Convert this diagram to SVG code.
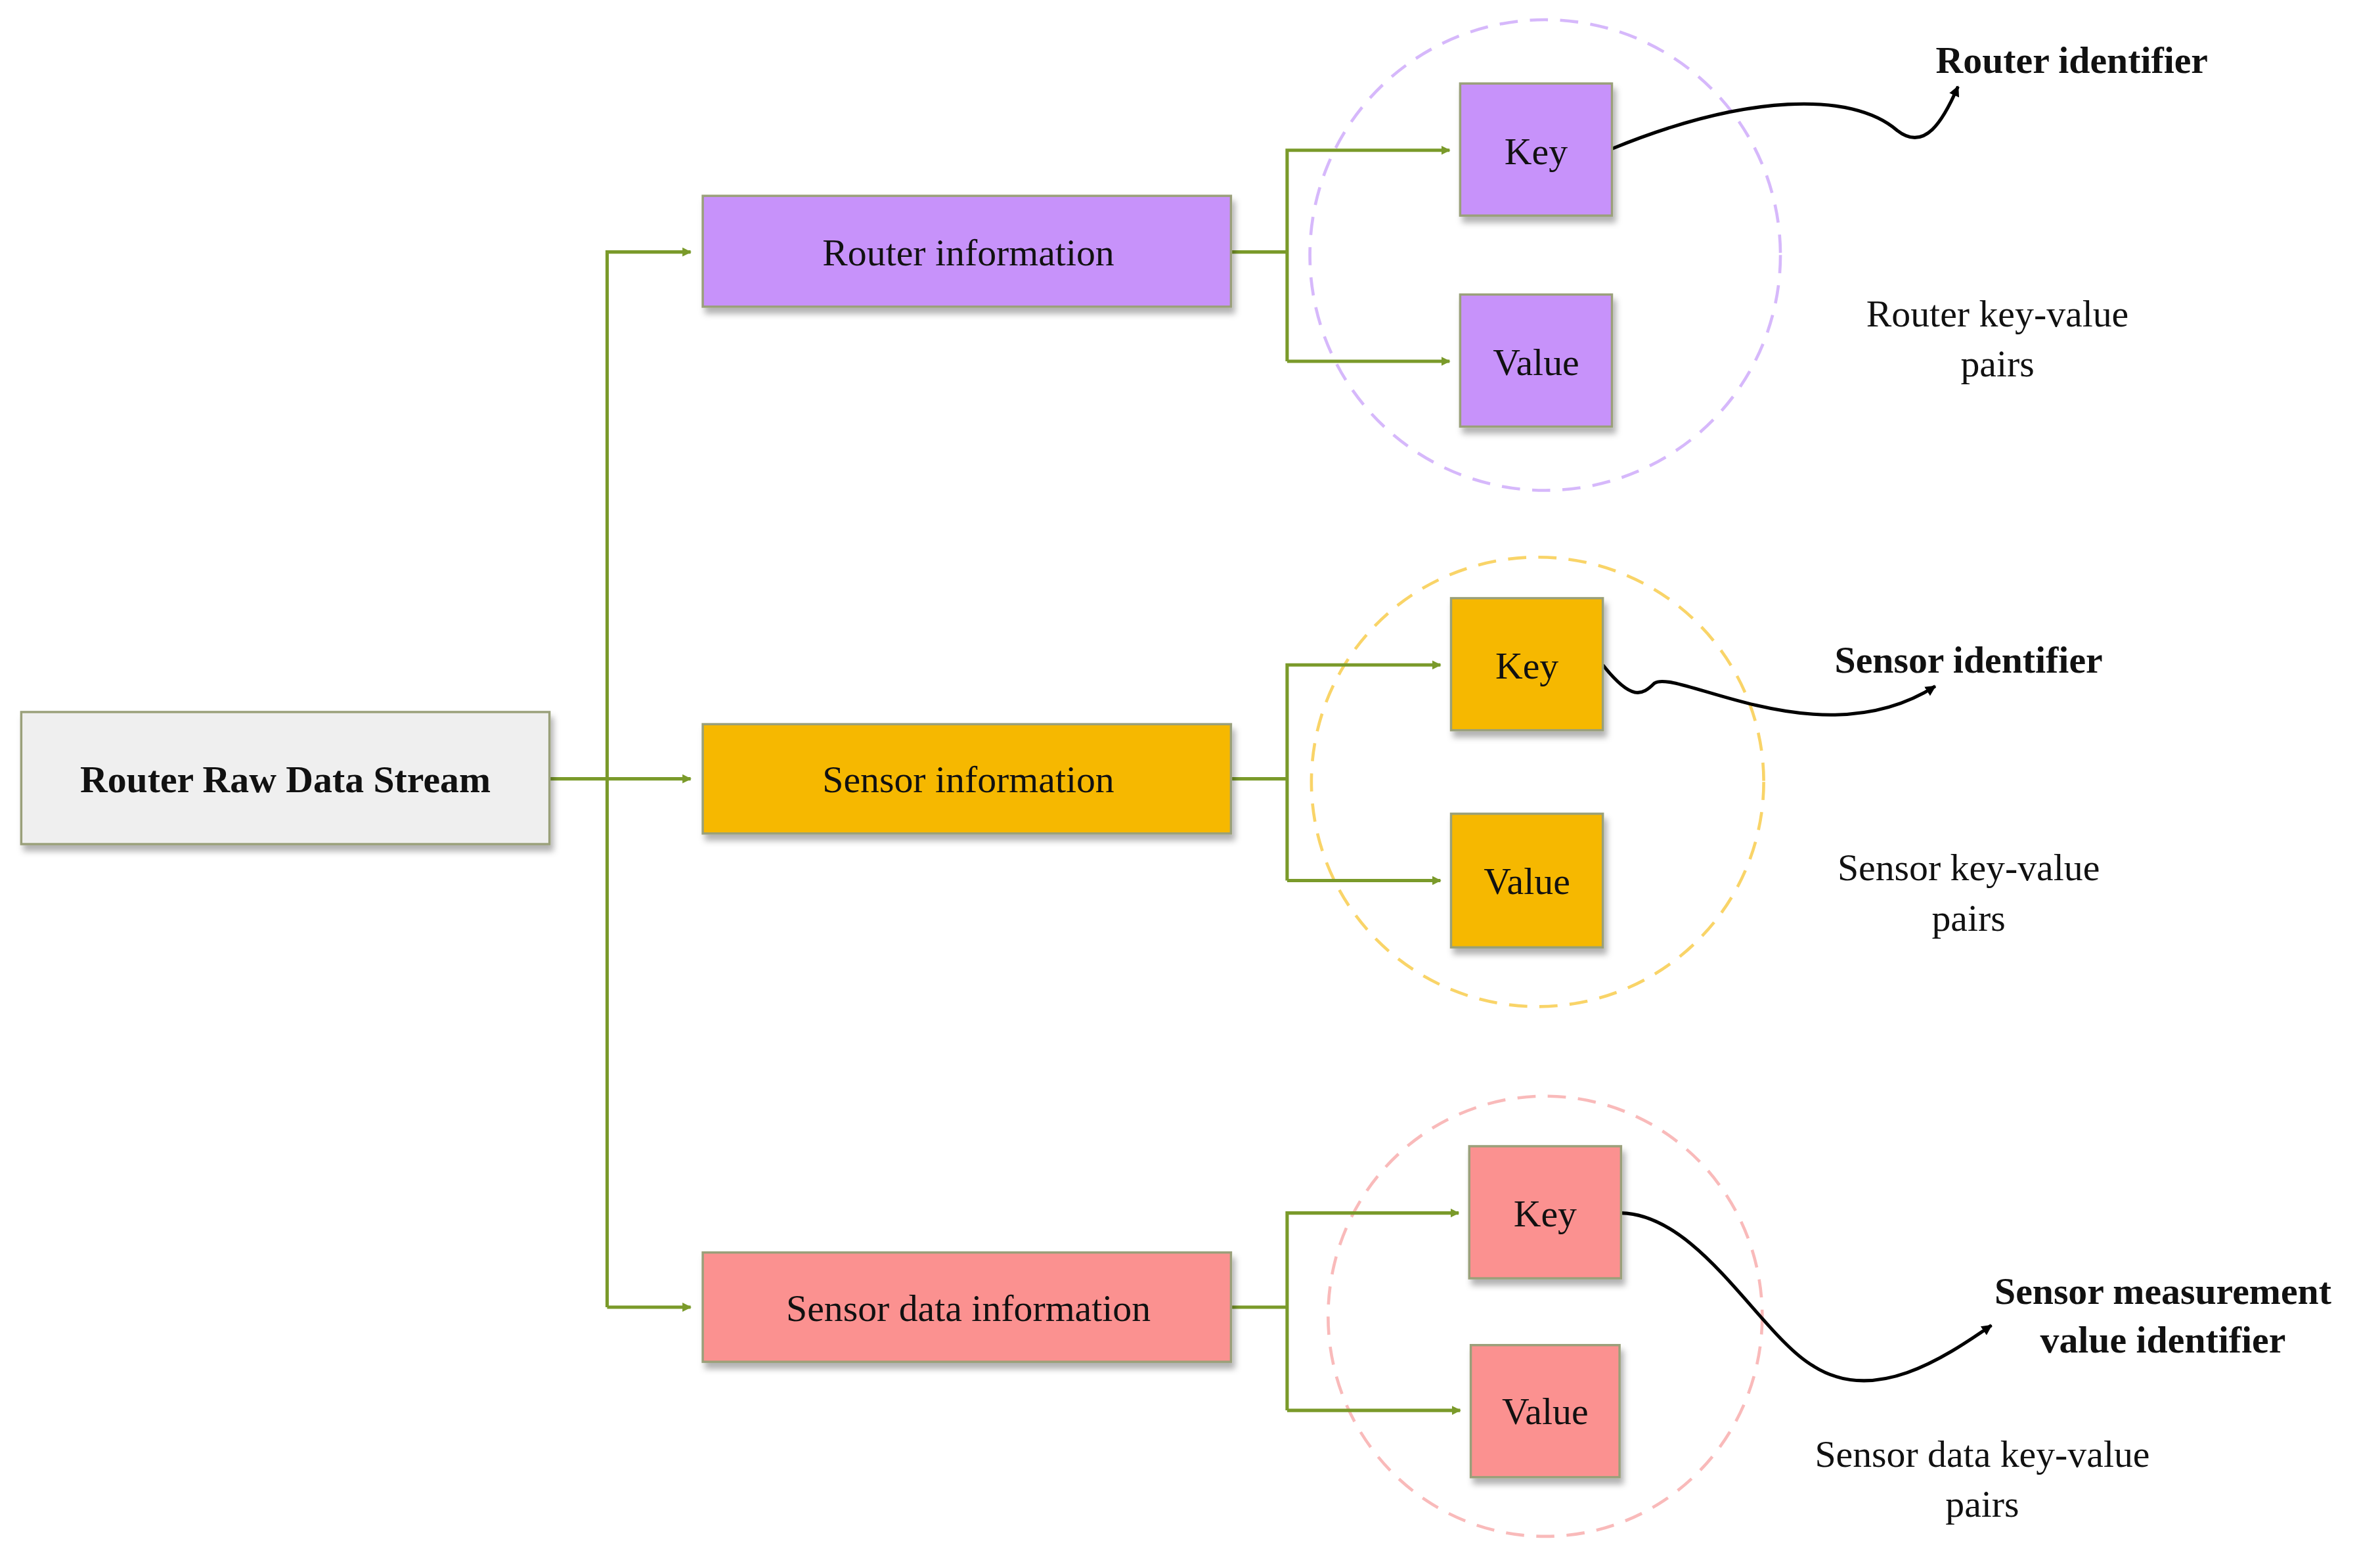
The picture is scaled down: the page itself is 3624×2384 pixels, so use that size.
<svg xmlns="http://www.w3.org/2000/svg" width="3624" height="2384" viewBox="0 0 3624 2384">
<defs>
<filter id="sh" x="-10%" y="-10%" width="130%" height="140%"><feDropShadow dx="2" dy="4" stdDeviation="2" flood-color="#000" flood-opacity="0.3"/></filter>
<marker id="ga" viewBox="0 0 10 10" refX="9" refY="5" markerWidth="6" markerHeight="6" markerUnits="userSpaceOnUse" orient="auto"><path d="M0,0L10,5L0,10z" fill="#7a9a2a"/></marker>
<marker id="ka" viewBox="0 0 10 10" refX="9" refY="5" markerWidth="7" markerHeight="7" markerUnits="userSpaceOnUse" orient="auto"><path d="M0,0L10,5L0,10z" fill="#000"/></marker>
<style>
.t{font-family:"Liberation Serif",serif;font-size:25px;text-anchor:middle;fill:#111}
.b{font-weight:bold}
.box{stroke:#9aa07a;stroke-width:1.5;filter:url(#sh)}
.g{fill:none;stroke:#7a9a2a;stroke-width:2.2}
.k{fill:none;stroke:#000;stroke-width:2.2}
.c{fill:none;stroke-width:2;stroke-dasharray:12 8}
</style>
</defs>
<rect width="3624" height="2384" fill="#fff"/>
<g transform="scale(2.3112)">
<g id="circles">
<ellipse class="c" cx="1018" cy="168" rx="155" ry="155" stroke="#d6b8fb"/>
<ellipse class="c" cx="1013" cy="515" rx="149" ry="148" stroke="#f9d468"/>
<ellipse class="c" cx="1018" cy="867" rx="143" ry="145" stroke="#f9baba"/>
</g>
<g id="connectors">
<path class="g" d="M362,513H455" marker-end="url(#ga)"/>
<path class="g" d="M400,861V166H455" marker-end="url(#ga)"/>
<path class="g" d="M400,861H455" marker-end="url(#ga)"/>
<path class="g" d="M811,166H848"/><path class="g" d="M848,238V99H955" marker-end="url(#ga)"/><path class="g" d="M848,238H955" marker-end="url(#ga)"/>
<path class="g" d="M811,513H848"/><path class="g" d="M848,580V438H949" marker-end="url(#ga)"/><path class="g" d="M848,580H949" marker-end="url(#ga)"/>
<path class="g" d="M811,861H848"/><path class="g" d="M848,929V799H961" marker-end="url(#ga)"/><path class="g" d="M848,929H962" marker-end="url(#ga)"/>
<path class="k" d="M1062,98C1150,62 1220,60 1250,86C1268,100 1280,80 1290,57" marker-end="url(#ka)"/>
<path class="k" d="M1056,438C1075,462 1082,458 1090,450C1105,440 1200,500 1275,452" marker-end="url(#ka)"/>
<path class="k" d="M1068,799C1120,800 1160,880 1195,900C1235,925 1280,895 1312,873" marker-end="url(#ka)"/>
</g>
<g id="root"><rect class="box" x="14" y="469" width="348" height="87" fill="#efefef"/><text class="t b" x="188" y="522">Router Raw Data Stream</text></g>
<g id="router"><rect class="box" x="463" y="129" width="348" height="73" fill="#c792fa"/><text class="t" x="638" y="175">Router information</text></g>
<g id="sensor"><rect class="box" x="463" y="477" width="348" height="72" fill="#f6b800"/><text class="t" x="638" y="522">Sensor information</text></g>
<g id="sdata"><rect class="box" x="463" y="825" width="348" height="72" fill="#fb9190"/><text class="t" x="638" y="870">Sensor data information</text></g>
<g id="rkey"><rect class="box" x="962" y="55" width="100" height="87" fill="#c792fa"/><text class="t" x="1012" y="108">Key</text></g>
<g id="rval"><rect class="box" x="962" y="194" width="100" height="87" fill="#c792fa"/><text class="t" x="1012" y="247">Value</text></g>
<g id="skey"><rect class="box" x="956" y="394" width="100" height="87" fill="#f6b800"/><text class="t" x="1006" y="447">Key</text></g>
<g id="sval"><rect class="box" x="956" y="536" width="100" height="88" fill="#f6b800"/><text class="t" x="1006" y="589">Value</text></g>
<g id="dkey"><rect class="box" x="968" y="755" width="100" height="87" fill="#fb9190"/><text class="t" x="1018" y="808">Key</text></g>
<g id="dval"><rect class="box" x="969" y="886" width="98" height="87" fill="#fb9190"/><text class="t" x="1018" y="938">Value</text></g>
<g id="labels">
<text class="t b" x="1365" y="48">Router identifier</text>
<text class="t" x="1316" y="215">Router key-value</text><text class="t" x="1316" y="248">pairs</text>
<text class="t b" x="1297" y="443">Sensor identifier</text>
<text class="t" x="1297" y="580">Sensor key-value</text><text class="t" x="1297" y="613">pairs</text>
<text class="t b" x="1425" y="859">Sensor measurement</text><text class="t b" x="1425" y="891">value identifier</text>
<text class="t" x="1306" y="966">Sensor data key-value</text><text class="t" x="1306" y="999">pairs</text>
</g>
</g>
</svg>
